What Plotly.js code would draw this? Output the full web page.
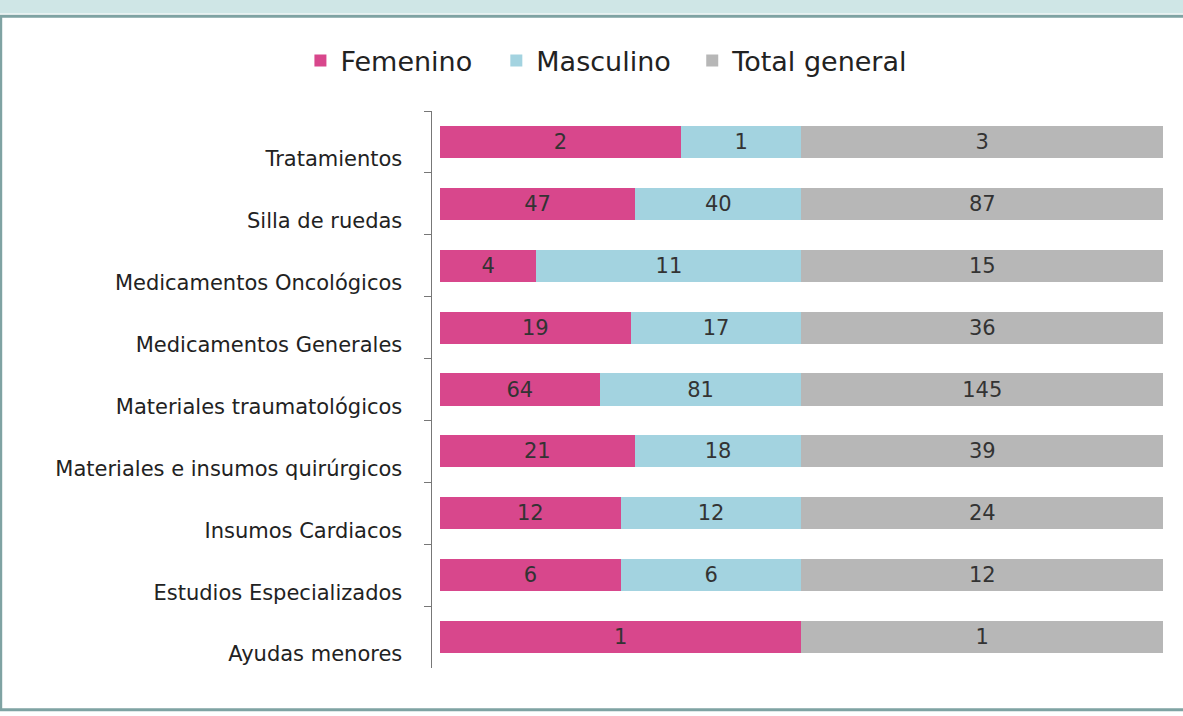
<!DOCTYPE html>
<html><head><meta charset="utf-8">
<script src="https://cdn.plot.ly/plotly-3.0.1.min.js"></script>
<style>html,body{margin:0;padding:0;background:#fff;}#chart{width:1183px;height:716px;}</style>
</head><body><div id="chart"></div>
<script>
const categories = ["Tratamientos","Silla de ruedas","Medicamentos Oncológicos","Medicamentos Generales","Materiales traumatológicos","Materiales e insumos quirúrgicos","Insumos Cardiacos","Estudios Especializados","Ayudas menores"];
const femenino = [2,47,4,19,64,21,12,6,1];
const masculino = [1,40,11,17,81,18,12,6,null];
const totalGeneral = [3,87,15,36,145,39,24,12,1];

function mk(name, vals, color, leg){
  return {type:'bar', orientation:'h', name:name, y:categories, x:vals, legend:leg,
    text: vals.map(v => v==null ? '' : String(v)),
    textposition:'inside', insidetextanchor:'middle', textangle:0, constraintext:'none',
    textfont:{family:'DejaVu Sans, sans-serif', size:21, color:'#333'},
    marker:{color:color, line:{width:0}}, hoverinfo:'none'};
}
const data = [
  mk('Femenino', femenino, '#d8478c', 'legend'),
  mk('Masculino', masculino, '#a3d3e0', 'legend2'),
  mk('Total general', totalGeneral, '#b7b7b7', 'legend3')
];
function leg(x){
  return {orientation:'h', x:x, xanchor:'left', y:1.09, yanchor:'middle',
    font:{size:27, color:'#222'}, itemwidth:30, bgcolor:'rgba(0,0,0,0)'};
}
const layout = {
  width:1183, height:716,
  margin:{l:432, r:20, t:111, b:48},
  paper_bgcolor:'#fff', plot_bgcolor:'#fff',
  font:{family:'DejaVu Sans, sans-serif', color:'#222'},
  barmode:'stack', barnorm:'percent', bargap:0.48,
  showlegend:true,
  legend:leg(-0.18), legend2:leg(0.088), legend3:leg(0.356),
  xaxis:{range:[-1.1,100], visible:false, fixedrange:true},
  yaxis:{type:'category', autorange:'reversed', showline:true, linecolor:'#777', linewidth:1.5,
    ticks:'outside', ticklen:7, tickcolor:'#777', tickson:'boundaries', showgrid:false,
    tickfont:{size:21, color:'#222'}, ticklabelstandoff:24, ticklabelshift:-17, zeroline:false},
  shapes:[
    {type:'rect', xref:'paper', yref:'paper', x0:-0.59, x1:1.03, y0:-0.075, y1:1.17,
     line:{color:'#7fa3a3', width:3}, fillcolor:'rgba(0,0,0,0)', layer:'below'},
    {type:'rect', xref:'paper', yref:'paper', x0:-0.6, x1:1.03, y0:1.175, y1:1.21,
     line:{width:0}, fillcolor:'#cfe6e6', layer:'below'}
  ]
};
Plotly.newPlot('chart', data, layout, {displayModeBar:false, staticPlot:true});
</script></body></html>
